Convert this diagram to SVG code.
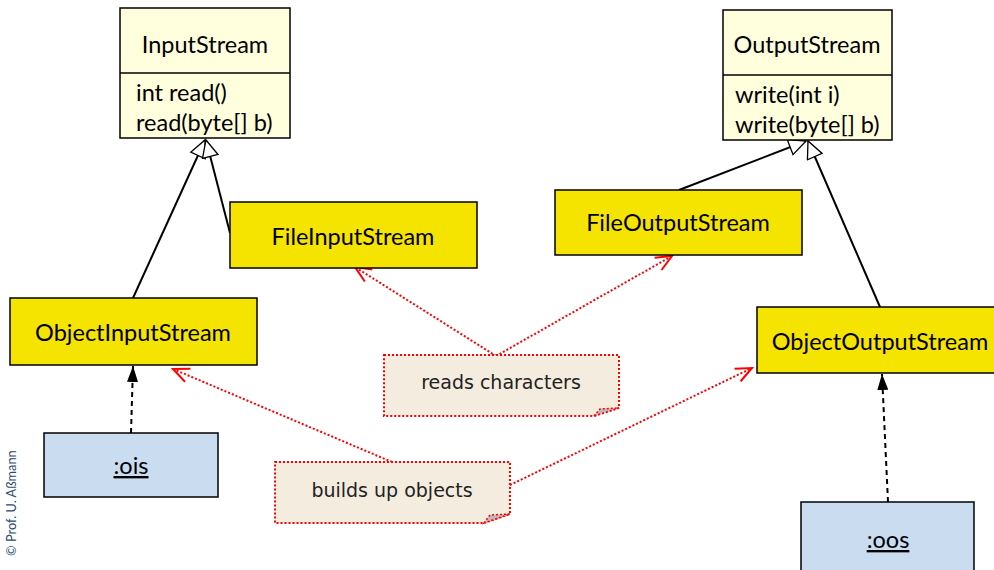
<svg xmlns="http://www.w3.org/2000/svg" width="994" height="570" viewBox="0 0 994 570">
<defs>
<style>
.cls{fill:#ffffdd;stroke:#000;stroke-width:1.5}
.yel{fill:#f5e300;stroke:#000;stroke-width:1.5}
.obj{fill:#c9dcf0;stroke:#000;stroke-width:1.5}
.note{fill:#f4ecdf;stroke:#ff0000;stroke-width:2;stroke-dasharray:2,2}
.t{font-family:Lato,"Liberation Sans",sans-serif;font-size:23.5px;fill:#000}
.m{font-family:Lato,"Liberation Sans",sans-serif;font-size:23.5px;fill:#000}
.n{font-family:"DejaVu Sans","Liberation Sans",sans-serif;font-size:19px;fill:#222}
.inh{stroke:#000;stroke-width:2;fill:none}
.dep{stroke:#000;stroke-width:2;stroke-dasharray:5,4;fill:none}
.red{stroke:#ff0000;stroke-width:2;stroke-dasharray:2,2;fill:none}
</style>
<marker id="tri" markerWidth="20" markerHeight="20" refX="18" refY="9" orient="auto" markerUnits="userSpaceOnUse">
<path d="M1,1 L18,9 L1,17 Z" fill="#fff" stroke="#000" stroke-width="1.3"/>
</marker>
<marker id="fill" markerWidth="16" markerHeight="11" refX="16" refY="5.5" orient="auto" markerUnits="userSpaceOnUse" viewBox="0 0 16 11">
<path d="M0,0 L16,5.5 L0,11 Z" fill="#000"/>
</marker>
<marker id="vee" markerWidth="20" markerHeight="20" refX="18" refY="9" orient="auto" markerUnits="userSpaceOnUse">
<path d="M2,2 L18,9 L2,16" fill="none" stroke="#ff0000" stroke-width="2"/>
</marker>
</defs>
<rect width="994" height="570" fill="#fff"/>

<g id="connectors">
<line class="inh" x1="133" y1="298" x2="205" y2="140" marker-end="url(#tri)"/>
<line class="inh" x1="230" y1="233" x2="206" y2="140" marker-end="url(#tri)"/>
<line class="inh" x1="679" y1="190" x2="806" y2="141" marker-end="url(#tri)"/>
<line class="inh" x1="880" y1="307" x2="808" y2="141" marker-end="url(#tri)"/>
<line class="dep" x1="131" y1="433" x2="133" y2="366" marker-end="url(#fill)"/>
<line class="dep" x1="888" y1="502" x2="882" y2="374" marker-end="url(#fill)"/>
<line class="red" x1="496" y1="356" x2="355" y2="267" marker-end="url(#vee)"/>
<line class="red" x1="496" y1="356" x2="672" y2="256" marker-end="url(#vee)"/>
<line class="red" x1="392" y1="462" x2="173" y2="369" marker-end="url(#vee)"/>
<line class="red" x1="510" y1="485" x2="752" y2="368" marker-end="url(#vee)"/>
</g>

<g id="InputStream">
<rect class="cls" x="120" y="8" width="170" height="130"/>
<line x1="120" y1="73" x2="290" y2="73" stroke="#000" stroke-width="1.5"/>
<text class="t" x="205" y="53" text-anchor="middle">InputStream</text>
<text class="m" x="136" y="101">int read()</text>
<text class="m" x="136" y="131">read(byte[] b)</text>
</g>

<g id="OutputStream">
<rect class="cls" x="723" y="10" width="169" height="130"/>
<line x1="723" y1="75" x2="892" y2="75" stroke="#000" stroke-width="1.5"/>
<text class="t" x="807" y="53" text-anchor="middle">OutputStream</text>
<text class="m" x="735" y="103">write(int i)</text>
<text class="m" x="735" y="133">write(byte[] b)</text>
</g>

<g id="FileInputStream">
<rect class="yel" x="230" y="202" width="247" height="66"/>
<text class="t" x="353" y="245" text-anchor="middle">FileInputStream</text>
</g>

<g id="ObjectInputStream">
<rect class="yel" x="10" y="298" width="247" height="67"/>
<text class="t" x="133" y="341" text-anchor="middle">ObjectInputStream</text>
</g>

<g id="FileOutputStream">
<rect class="yel" x="555" y="190" width="247" height="65"/>
<text class="t" x="678" y="231" text-anchor="middle">FileOutputStream</text>
</g>

<g id="ObjectOutputStream">
<rect class="yel" x="757" y="307" width="247" height="66"/>
<text class="t" x="880" y="350" text-anchor="middle">ObjectOutputStream</text>
</g>

<g id="ois">
<rect class="obj" x="44" y="433" width="174" height="64"/>
<text class="t" x="131" y="474" text-anchor="middle" text-decoration="underline">:ois</text>
</g>

<g id="oos">
<rect class="obj" x="801" y="502" width="173" height="80"/>
<text class="t" x="888" y="548" text-anchor="middle" text-decoration="underline">:oos</text>
</g>

<g id="note-reads">
<path class="note" d="M384,355 L619,355 L619,408 L594,416 L384,416 Z"/>
<path d="M594,416 L600,409 L619,408 Z" fill="#bbb" stroke="#ff0000" stroke-width="1.5" stroke-dasharray="2,2"/>
<text class="n" x="501" y="389" text-anchor="middle">reads characters</text>
</g>

<g id="note-builds">
<path class="note" d="M275,462 L510,462 L510,514 L484,523 L275,523 Z"/>
<path d="M484,523 L490,515 L510,514 Z" fill="#bbb" stroke="#ff0000" stroke-width="1.5" stroke-dasharray="2,2"/>
<text class="n" x="392" y="497" text-anchor="middle">builds up objects</text>
</g>

<text x="16" y="556" transform="rotate(-90 16 556)" font-family="Lato,'Liberation Sans',sans-serif" font-size="12.8" fill="#2c4a6e">© Prof. U. Aßmann</text>
</svg>
